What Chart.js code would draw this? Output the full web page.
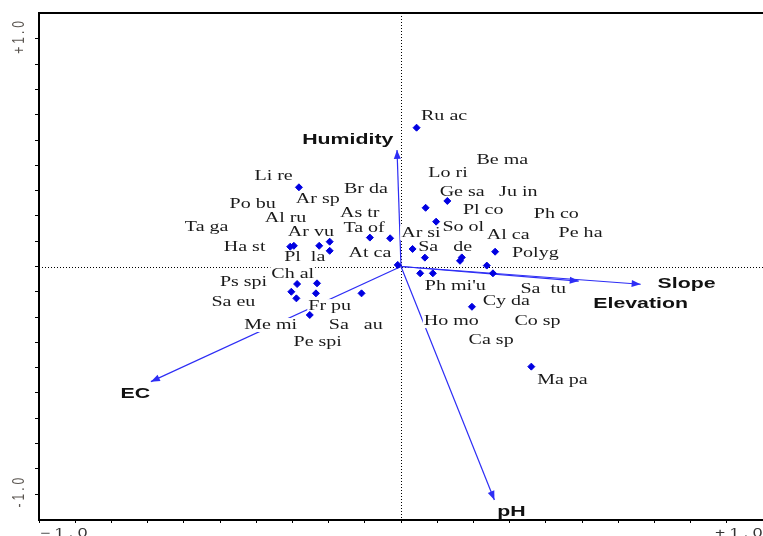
<!DOCTYPE html>
<html>
<head>
<meta charset="utf-8">
<script src="https://cdn.jsdelivr.net/npm/chart.js@4.4.1/dist/chart.umd.min.js"></script>
<style>
html, body { margin: 0; padding: 0; background: #fff; }
</style>
</head>
<body>
<canvas id="graficaCCA" width="763" height="536"></canvas>
<script>
// Puntos de especies (scores)
const especiesX = [-0.282, -0.296, -0.306, -0.226, -0.197, -0.197, -0.086, -0.030, -0.009,
    0.043, 0.128, 0.068, 0.097, 0.032, 0.066, 0.168, 0.163, 0.260, 0.237, 0.053, 0.088, 0.254,
    -0.287, -0.232, -0.303, -0.235, -0.289, -0.109, -0.252, 0.196, 0.360];
const especiesY = [0.348, 0.091, 0.087, 0.091, 0.109, 0.069, 0.127, 0.124, 0.007,
    0.610, 0.288, 0.258, 0.197, 0.077, 0.039, 0.040, 0.025, 0.065, 0.004, -0.030, -0.030, -0.030,
    -0.077, -0.074, -0.111, -0.118, -0.140, -0.118, -0.213, -0.177, -0.440];

// Etiquetas de especies
const nombres = ['Ru ac', 'Be ma', 'Lo ri', 'Li re', 'Ge sa', 'Ju in', 'Br da', 'Ar sp', 'Po bu',
    'Pl co', 'Ph co', 'As tr', 'Al ru', 'So ol', 'Ta ga', 'Ta of', 'Ar vu', 'Ar si', 'Al ca',
    'Pe ha', 'Ha st', 'Sa   de', 'Polyg', 'At ca', 'Pl  la', 'Ch al', 'Ps spi', "Ph mi'u",
    'Sa  tu', 'Sa eu', 'Fr pu', 'Cy da', 'Me mi', 'Sa   au', 'Ho mo', 'Co sp', 'Pe spi',
    'Ca sp', 'Ma pa'];
const etiquetaX = [0.119, 0.280, 0.130, -0.352, 0.169, 0.324, -0.097, -0.230, -0.410,
    0.227, 0.429, -0.114, -0.319, 0.172, -0.537, -0.102, -0.249, 0.055, 0.296,
    0.496, -0.432, 0.122, 0.371, -0.086, -0.266, -0.299, -0.435, 0.150,
    0.393, -0.463, -0.197, 0.291, -0.360, -0.125, 0.139, 0.377, -0.230,
    0.249, 0.446];
const etiquetaY = [0.662, 0.468, 0.411, 0.398, 0.327, 0.327, 0.341, 0.297, 0.275,
    0.248, 0.231, 0.235, 0.213, 0.174, 0.174, 0.169, 0.152, 0.147, 0.138,
    0.147, 0.086, 0.086, 0.059, 0.059, 0.042, -0.033, -0.068, -0.086,
    -0.099, -0.156, -0.174, -0.152, -0.257, -0.257, -0.240, -0.240, -0.332,
    -0.323, -0.499];

// Variables ambientales (flechas)
const variables = ['Humidity', 'Slope', 'Elevation', 'EC', 'pH'];
const flechaX = [-0.011, 0.662, 0.491, -0.691, 0.258];
const flechaY = [0.512, -0.078, -0.064, -0.506, -1.026];
const varEtiquetaX = [-0.147, 0.789, 0.662, -0.734, 0.305];
const varEtiquetaY = [0.556, -0.077, -0.165, -0.560, -1.079];

// Ejes
const limitesX = [-1, 1];
const limitesY = [-1.114, 1.114];
const marcasY = [-9, -8, -7, -6, -5, -4, -3, -2, -1, 0, 1, 2, 3, 4, 5, 6, 7, 8, 9].map(k => k / 9);
const textoMarcas = ['-1.0', '+1.0'];

const AZUL_PUNTO = 'rgb(0,0,225)';
const AZUL_FLECHA = 'rgb(45,45,245)';

function texto(ctx, txt, x, y, fuente, color, escala, fondo) {
    ctx.save();
    ctx.font = fuente;
    const w = ctx.measureText(txt).width * escala;
    if (fondo) {
        ctx.fillStyle = '#fff';
        ctx.fillRect(x - w / 2 - 1, y - 7, w + 2, 14);
    }
    ctx.translate(x, y);
    ctx.scale(escala, 1);
    ctx.fillStyle = color;
    ctx.textAlign = 'center';
    ctx.textBaseline = 'middle';
    ctx.fillText(txt, 0, 0);
    ctx.restore();
}

const pluginBiplot = {
    id: 'biplot',
    beforeDatasetsDraw(chart) {
        // lineas punteadas en cero
        const { ctx, chartArea: a, scales: { x, y } } = chart;
        ctx.save();
        ctx.strokeStyle = '#000';
        ctx.lineWidth = 1;
        ctx.setLineDash([1, 2]);
        const x0 = Math.round(x.getPixelForValue(0)) + 0.5;
        const y0 = Math.round(y.getPixelForValue(0)) + 0.5;
        ctx.beginPath();
        ctx.moveTo(x0, a.top); ctx.lineTo(x0, a.bottom);
        ctx.moveTo(a.left, y0); ctx.lineTo(a.right, y0);
        ctx.stroke();
        ctx.restore();
    },
    beforeDatasetDraw(chart, args) {
        if (args.index !== 0) return;
        const { ctx, scales: { x, y } } = chart;
        // puntas de flecha
        variables.forEach((v, i) => {
            const ox = x.getPixelForValue(0), oy = y.getPixelForValue(0);
            const tx = x.getPixelForValue(flechaX[i]), ty = y.getPixelForValue(flechaY[i]);
            const ang = Math.atan2(ty - oy, tx - ox);
            ctx.save();
            ctx.translate(tx, ty);
            ctx.rotate(ang);
            ctx.fillStyle = AZUL_FLECHA;
            ctx.beginPath();
            ctx.moveTo(0, 0); ctx.lineTo(-9, -3.5); ctx.lineTo(-9, 3.5);
            ctx.closePath();
            ctx.fill();
            ctx.restore();
        });
        // etiquetas de especies con fondo blanco
        nombres.forEach((n, i) => {
            texto(ctx, n, x.getPixelForValue(etiquetaX[i]), y.getPixelForValue(etiquetaY[i]),
                '14px "Liberation Serif"', '#1a1a1a', 1.43, true);
        });
        variables.forEach((n, i) => {
            texto(ctx, n, x.getPixelForValue(varEtiquetaX[i]), y.getPixelForValue(varEtiquetaY[i]),
                'bold 15px "Liberation Sans"', '#111', 1.42, true);
        });
    },
    afterDraw(chart) {
        const { ctx, chartArea: a, scales: { y } } = chart;
        // borde superior
        ctx.save();
        ctx.strokeStyle = '#000';
        ctx.lineWidth = 2;
        ctx.beginPath();
        ctx.moveTo(a.left - 1, a.top); ctx.lineTo(a.right, a.top);
        ctx.stroke();
        ctx.restore();
        // textos de los ejes
        ctx.save();
        ctx.font = '12px "Liberation Sans"';
        ctx.letterSpacing = '3px';
        ctx.fillStyle = '#5a5550';
        [[1, textoMarcas[1]], [-1, textoMarcas[0]]].forEach(([v, t]) => {
            ctx.save();
            ctx.translate(19, y.getPixelForValue(v) - 3);
            ctx.scale(1.45, 1);
            ctx.rotate(-Math.PI / 2);
            ctx.textAlign = 'center';
            ctx.textBaseline = 'middle';
            ctx.fillText(t, 0, 0);
            ctx.restore();
        });
        ctx.fillStyle = '#333';
        ctx.font = '12px "Liberation Sans"';
        ctx.textBaseline = 'alphabetic';
        ctx.save();
        ctx.translate(40, 537); ctx.scale(1.45, 1);
        ctx.fillText('\u22121.0', 0, 0);
        ctx.restore();
        ctx.save();
        ctx.translate(715, 537); ctx.scale(1.45, 1);
        ctx.fillText('+1.0', 0, 0);
        ctx.restore();
        ctx.restore();
    }
};

const datosEspecies = especiesX.map((v, i) => ({ x: v, y: especiesY[i] }));
const datosFlechas = variables.map((v, i) => ({
    label: v,
    data: [{ x: 0, y: 0 }, { x: flechaX[i], y: flechaY[i] }],
    showLine: true,
    borderColor: AZUL_FLECHA,
    borderWidth: 1.2,
    pointRadius: 0,
    order: 1
}));

new Chart(document.getElementById('graficaCCA'), {
    type: 'scatter',
    data: {
        datasets: [
            {
                label: 'Especies',
                data: datosEspecies,
                pointStyle: 'rectRot',
                pointRadius: 3.5,
                backgroundColor: AZUL_PUNTO,
                borderColor: AZUL_PUNTO,
                borderWidth: 1,
                order: 0
            },
            ...datosFlechas
        ]
    },
    options: {
        responsive: false,
        animation: false,
        layout: { autoPadding: false, padding: { top: 13, right: 0, left: 0, bottom: 0 } },
        plugins: { legend: { display: false }, tooltip: { enabled: false } },
        scales: {
            x: {
                type: 'linear',
                min: limitesX[0],
                max: limitesX[1],
                ticks: { display: false, stepSize: 0.1 },
                grid: { drawOnChartArea: false, tickLength: 3, tickColor: '#000', tickWidth: 1 },
                border: { color: '#000', width: 2 },
                afterFit: s => { s.height = 16; s.paddingLeft = 0; s.paddingRight = 0; }
            },
            y: {
                type: 'linear',
                min: limitesY[0],
                max: limitesY[1],
                afterBuildTicks: s => { s.ticks = marcasY.map(v => ({ value: v })); },
                ticks: { display: false },
                grid: { drawOnChartArea: false, tickLength: 4, tickColor: '#000', tickWidth: 1 },
                border: { color: '#000', width: 2 },
                afterFit: s => { s.width = 39; s.paddingTop = 0; s.paddingBottom = 0; }
            }
        }
    },
    plugins: [pluginBiplot]
});
</script>
</body>
</html>
